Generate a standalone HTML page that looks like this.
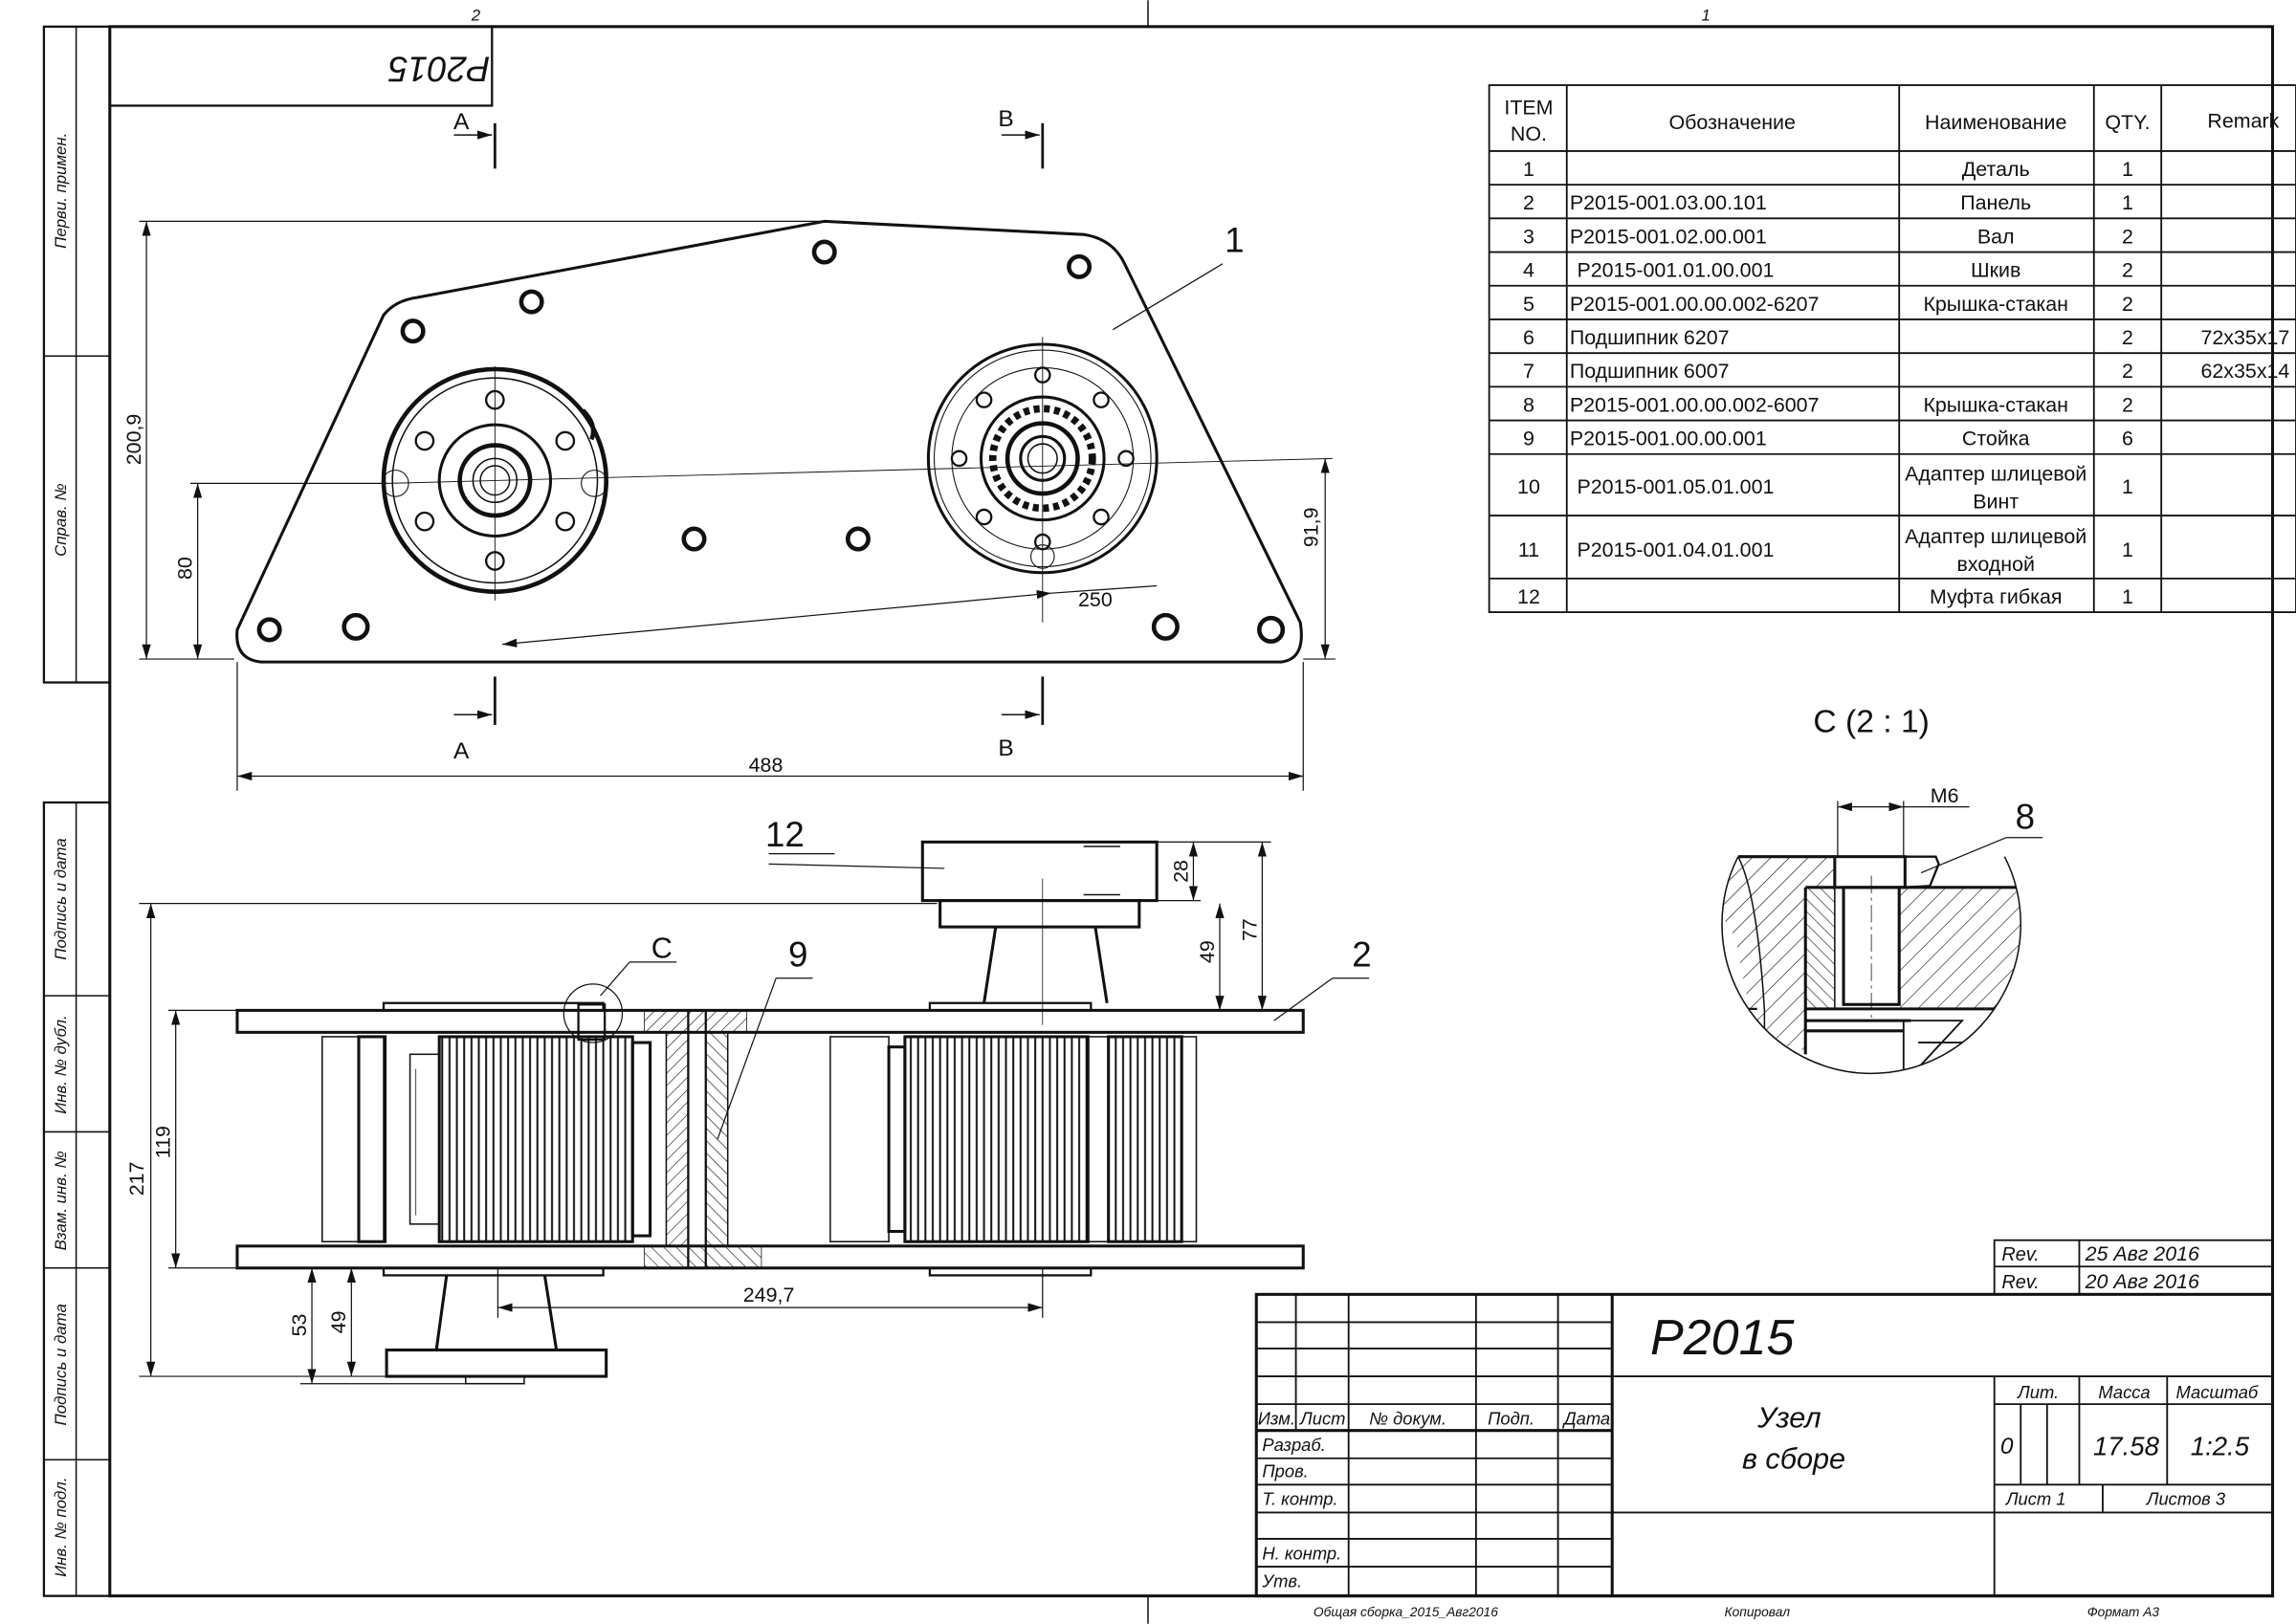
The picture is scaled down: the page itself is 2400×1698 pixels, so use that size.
<!DOCTYPE html>
<html><head><meta charset="utf-8"><style>html,body{margin:0;padding:0;background:#fff}svg{display:block}text{font-family:"Liberation Sans",sans-serif;fill:#111}</style></head><body>
<svg width="2400" height="1698" viewBox="0 0 1568 1109" xmlns="http://www.w3.org/2000/svg">
<defs>
<pattern id="h" width="9" height="9" patternUnits="userSpaceOnUse" patternTransform="rotate(45)"><line x1="0" y1="0" x2="0" y2="9" stroke="#111" stroke-width="0.8"/></pattern>
<pattern id="h2" width="6" height="6" patternUnits="userSpaceOnUse" patternTransform="rotate(-45)"><line x1="0" y1="0" x2="0" y2="6" stroke="#111" stroke-width="0.8"/></pattern>
<pattern id="hs" width="6" height="6" patternUnits="userSpaceOnUse" patternTransform="rotate(45)"><line x1="0" y1="0" x2="0" y2="6" stroke="#111" stroke-width="0.8"/></pattern>
<pattern id="teeth" width="5" height="10" patternUnits="userSpaceOnUse"><line x1="2" y1="0" x2="2" y2="10" stroke="#111" stroke-width="1.3"/></pattern>
<marker id="a" markerWidth="10" markerHeight="6" refX="10" refY="3" orient="auto-start-reverse" markerUnits="userSpaceOnUse"><path d="M0,0L10,3L0,6z" fill="#111"/></marker>
<clipPath id="cir"><path d="M1187,585 A102,102 0 1 0 1369,585 Z"/></clipPath>
</defs>
<g fill="none" stroke="#111" stroke-width="1">
<rect x="30" y="18" width="45" height="448" stroke-width="1.5"/>
<rect x="30" y="548" width="45" height="542" stroke-width="1.5"/>
<line x1="52" y1="18" x2="52" y2="466"/><line x1="52" y1="548" x2="52" y2="1090"/>
<line x1="30" y1="243" x2="75" y2="243"/><line x1="30" y1="680" x2="75" y2="680"/><line x1="30" y1="773" x2="75" y2="773"/><line x1="30" y1="866" x2="75" y2="866"/><line x1="30" y1="997" x2="75" y2="997"/>
<rect x="75" y="18" width="1477" height="1072" stroke-width="2"/>
<line x1="784" y1="0" x2="784" y2="18"/><line x1="784" y1="1090" x2="784" y2="1109"/>
<rect x="75" y="18" width="261" height="54" stroke-width="1.5"/>
<g stroke-width="1.2">
<rect x="1017" y="58" width="551" height="360"/>
<line x1="1070" y1="58" x2="1070" y2="418"/><line x1="1297" y1="58" x2="1297" y2="418"/><line x1="1430" y1="58" x2="1430" y2="418"/><line x1="1476" y1="58" x2="1476" y2="418"/>
<line x1="1017" y1="103" x2="1568" y2="103"/><line x1="1017" y1="126" x2="1568" y2="126"/><line x1="1017" y1="149" x2="1568" y2="149"/><line x1="1017" y1="172" x2="1568" y2="172"/><line x1="1017" y1="195" x2="1568" y2="195"/><line x1="1017" y1="218" x2="1568" y2="218"/><line x1="1017" y1="241" x2="1568" y2="241"/><line x1="1017" y1="264" x2="1568" y2="264"/><line x1="1017" y1="287" x2="1568" y2="287"/><line x1="1017" y1="310" x2="1568" y2="310"/><line x1="1017" y1="352" x2="1568" y2="352"/><line x1="1017" y1="395" x2="1568" y2="395"/>
</g>
<path d="M178,452 Q160,450 162,430 L262,215 Q270,205 285,203 L563,151 L740,160 Q760,163 768,180 L888,425 Q892,450 875,452 Z" stroke-width="2"/>
<g stroke-width="3">
<circle cx="563" cy="172" r="7"/><circle cx="737" cy="182" r="7"/><circle cx="363" cy="206" r="7"/><circle cx="282" cy="226" r="7"/><circle cx="474" cy="368" r="7"/><circle cx="586" cy="368" r="7"/><circle cx="184" cy="430" r="7"/><circle cx="243" cy="428" r="8"/><circle cx="796" cy="428" r="8"/><circle cx="868" cy="430" r="8"/>
</g>
<circle cx="338" cy="328" r="76" stroke-width="3"/><circle cx="338" cy="328" r="70" stroke-width="1"/>
<circle cx="338" cy="328" r="38" stroke-width="2"/><circle cx="338" cy="328" r="24" stroke-width="3"/><circle cx="338" cy="328" r="15"/><circle cx="338" cy="328" r="10"/>
<g stroke-width="1.5"><circle cx="338" cy="273" r="6"/><circle cx="338" cy="383" r="6"/><circle cx="290" cy="301" r="6"/><circle cx="386" cy="301" r="6"/><circle cx="290" cy="356" r="6"/><circle cx="386" cy="356" r="6"/><circle cx="270" cy="330" r="9" stroke-width="0.7"/><circle cx="406" cy="330" r="9" stroke-width="0.7"/></g>
<path d="M398,280 Q408,290 404,300" stroke-width="3"/>
<circle cx="712" cy="313" r="78" stroke-width="2"/><circle cx="712" cy="313" r="74" stroke-width="0.7"/><circle cx="712" cy="313" r="62" stroke-width="0.7"/>
<circle cx="712" cy="313" r="42" stroke-width="2"/><circle cx="712" cy="313" r="34" stroke-width="5" stroke-dasharray="4 3"/><circle cx="712" cy="313" r="24" stroke-width="3"/><circle cx="712" cy="313" r="15" stroke-width="2"/><circle cx="712" cy="313" r="10"/>
<g stroke-width="1.5"><circle cx="712" cy="256" r="5"/><circle cx="712" cy="370" r="5"/><circle cx="655" cy="313" r="5"/><circle cx="769" cy="313" r="5"/><circle cx="672" cy="273" r="5"/><circle cx="752" cy="273" r="5"/><circle cx="672" cy="353" r="5"/><circle cx="752" cy="353" r="5"/><circle cx="712" cy="380" r="8" stroke-width="0.7"/></g>
<line x1="265" y1="330" x2="910" y2="313" stroke-width="0.6"/><line x1="338" y1="250" x2="338" y2="410" stroke-width="0.6"/><line x1="712" y1="230" x2="712" y2="425" stroke-width="0.6"/>
<g stroke-width="0.8">
<line x1="95" y1="151" x2="560" y2="151"/><line x1="95" y1="450" x2="160" y2="450"/><line x1="100" y1="151" x2="100" y2="450" marker-start="url(#a)" marker-end="url(#a)"/>
<line x1="130" y1="330" x2="265" y2="330"/><line x1="135" y1="330" x2="135" y2="450" marker-start="url(#a)" marker-end="url(#a)"/>
<line x1="890" y1="450" x2="912" y2="450"/><line x1="905" y1="313" x2="905" y2="450" marker-start="url(#a)" marker-end="url(#a)"/>
<line x1="162" y1="452" x2="162" y2="540"/><line x1="890" y1="452" x2="890" y2="540"/><line x1="162" y1="530" x2="890" y2="530" marker-start="url(#a)" marker-end="url(#a)"/>
<line x1="343" y1="440" x2="718" y2="405" marker-start="url(#a)" marker-end="url(#a)"/><line x1="718" y1="405" x2="790" y2="400"/>
<line x1="760" y1="225" x2="835" y2="180"/>
</g>
<g stroke-width="1.8"><line x1="338" y1="84" x2="338" y2="115"/><line x1="338" y1="462" x2="338" y2="495"/><line x1="712" y1="84" x2="712" y2="115"/><line x1="712" y1="462" x2="712" y2="495"/></g>
<g stroke-width="1"><line x1="310" y1="92" x2="336" y2="92" marker-end="url(#a)"/><line x1="310" y1="488" x2="336" y2="488" marker-end="url(#a)"/><line x1="684" y1="92" x2="710" y2="92" marker-end="url(#a)"/><line x1="684" y1="488" x2="710" y2="488" marker-end="url(#a)"/></g>
<rect x="162" y="690" width="728" height="15" stroke-width="2"/><rect x="162" y="851" width="728" height="15" stroke-width="2"/>
<rect x="262" y="685" width="150" height="5" stroke-width="1.5"/><rect x="635" y="685" width="110" height="5" stroke-width="1.5"/>
<rect x="262" y="866" width="150" height="5" stroke-width="1.5"/><rect x="635" y="866" width="110" height="5" stroke-width="1.5"/>
<rect x="220" y="708" width="42" height="140"/><rect x="245" y="708" width="18" height="140" stroke-width="2"/>
<rect x="300" y="708" width="132" height="140" fill="url(#teeth)" stroke-width="2"/><rect x="280" y="720" width="20" height="116"/>
<rect x="432" y="712" width="12" height="132" stroke-width="2"/>
<rect x="567" y="708" width="40" height="140"/><rect x="618" y="708" width="125" height="140" fill="url(#teeth)" stroke-width="2"/><rect x="607" y="715" width="11" height="126" stroke-width="2"/>
<rect x="743" y="708" width="14" height="140"/><rect x="757" y="708" width="50" height="140" fill="url(#teeth)" stroke-width="2"/><rect x="807" y="708" width="10" height="140"/>
<rect x="455" y="705" width="15" height="146" fill="url(#hs)"/><rect x="482" y="705" width="15" height="146" fill="url(#h2)"/>
<rect x="470" y="690" width="12" height="176" stroke-width="1.5"/>
<rect x="440" y="690" width="70" height="15" fill="url(#hs)" stroke-width="0.5"/><rect x="440" y="851" width="80" height="15" fill="url(#h2)" stroke-width="0.5"/>
<rect x="395" y="686" width="18" height="24" stroke-width="1.5"/>
<rect x="630" y="575" width="160" height="40" stroke-width="2"/><rect x="642" y="615" width="136" height="18" stroke-width="2"/>
<path d="M680,633 L672,685 M748,633 L756,685" stroke-width="2"/><line x1="740" y1="578" x2="765" y2="578"/><line x1="740" y1="611" x2="765" y2="611"/>
<rect x="264" y="922" width="150" height="18" stroke-width="2"/><path d="M305,871 L298,922 M372,871 L380,922" stroke-width="2"/><rect x="318" y="940" width="40" height="5"/>
<line x1="712" y1="600" x2="712" y2="700" stroke-width="0.5"/><line x1="284" y1="730" x2="284" y2="830" stroke-width="0.5"/>
<g stroke-width="0.8">
<line x1="95" y1="617" x2="640" y2="617"/><line x1="95" y1="940" x2="264" y2="940"/><line x1="103" y1="617" x2="103" y2="940" marker-start="url(#a)" marker-end="url(#a)"/>
<line x1="115" y1="690" x2="162" y2="690"/><line x1="115" y1="866" x2="162" y2="866"/><line x1="120" y1="690" x2="120" y2="866" marker-start="url(#a)" marker-end="url(#a)"/>
<line x1="790" y1="575" x2="868" y2="575"/><line x1="815" y1="575" x2="815" y2="615" marker-start="url(#a)" marker-end="url(#a)"/><line x1="790" y1="615" x2="820" y2="615"/>
<line x1="833" y1="617" x2="833" y2="690" marker-start="url(#a)" marker-end="url(#a)"/><line x1="862" y1="575" x2="862" y2="690" marker-start="url(#a)" marker-end="url(#a)"/>
<line x1="205" y1="945" x2="318" y2="945"/><line x1="213" y1="866" x2="213" y2="945" marker-start="url(#a)" marker-end="url(#a)"/><line x1="240" y1="866" x2="240" y2="940" marker-start="url(#a)" marker-end="url(#a)"/><line x1="205" y1="866" x2="262" y2="866"/>
<line x1="340" y1="866" x2="340" y2="900"/><line x1="712" y1="866" x2="712" y2="900"/><line x1="340" y1="893" x2="712" y2="893" marker-start="url(#a)" marker-end="url(#a)"/>
<line x1="525" y1="583" x2="570" y2="583"/><line x1="525" y1="590" x2="645" y2="593"/>
<line x1="430" y1="657" x2="462" y2="657"/><line x1="430" y1="657" x2="410" y2="680"/>
<line x1="530" y1="668" x2="555" y2="668"/><line x1="530" y1="668" x2="490" y2="778"/>
<line x1="910" y1="668" x2="935" y2="668"/><line x1="910" y1="668" x2="870" y2="697"/>
</g>
<circle cx="405" cy="692" r="20" stroke-width="0.8"/>
<!-- detail C -->
<g clip-path="url(#cir)">
<path d="M1150,585 L1253,585 L1253,606 L1233,606 L1233,717 L1200,717 L1185,640 Z" fill="url(#h)" stroke="none"/>
<rect x="1233" y="606" width="20" height="83" fill="url(#h2)" stroke="none"/>
<rect x="1297" y="606" width="110" height="83" fill="url(#h)" stroke="none"/>
<path d="M1233,606 L1253,606 M1297,606 L1400,606" stroke-width="2"/>
<path d="M1233,606 L1233,720" stroke-width="2"/>
<path d="M1187,585 Q1200,610 1205,690 L1205,717" stroke-width="1"/>
<rect x="1259" y="606" width="38" height="80" stroke-width="2"/>
<line x1="1253" y1="606" x2="1253" y2="689" stroke-width="1"/>
<path d="M1233,689 L1400,689" stroke-width="2"/><path d="M1233,697 L1305,697 M1233,704 L1300,704" stroke-width="2"/>
<path d="M1300,697 L1300,740 M1305,697 L1340,697 L1300,740 M1310,712 L1345,712" stroke-width="1.2"/>
<path d="M1150,689 L1200,689" stroke-width="1.5"/>
</g>
<path d="M1187,585 A102,102 0 1 0 1369,585" stroke-width="1"/>
<line x1="1187" y1="585" x2="1253" y2="585" stroke-width="2"/>
<rect x="1253" y="585" width="48" height="21" stroke-width="2"/><path d="M1301,585 L1322,585 L1324,590 L1318,605 L1301,606" stroke-width="1.5"/>
<line x1="1278" y1="598" x2="1278" y2="695" stroke-width="0.5" stroke-dasharray="12 3 2 3"/>
<g stroke-width="0.8"><line x1="1255" y1="547" x2="1255" y2="585"/><line x1="1300" y1="547" x2="1300" y2="585"/><line x1="1255" y1="551" x2="1300" y2="551" marker-start="url(#a)" marker-end="url(#a)"/><line x1="1300" y1="551" x2="1345" y2="551"/><line x1="1312" y1="596" x2="1370" y2="572"/><line x1="1370" y1="572" x2="1395" y2="572"/></g>
<!-- title block -->
<g stroke-width="1.2">
<rect x="1362" y="847" width="190" height="37"/><line x1="1362" y1="865" x2="1552" y2="865"/><line x1="1420" y1="847" x2="1420" y2="884"/>
<rect x="858" y="884" width="694" height="206" stroke-width="2"/>
<line x1="1101" y1="884" x2="1101" y2="1090" stroke-width="2"/>
<line x1="885" y1="884" x2="885" y2="977"/><line x1="921" y1="884" x2="921" y2="1090"/><line x1="1008" y1="884" x2="1008" y2="1090"/><line x1="1064" y1="884" x2="1064" y2="1090"/>
<line x1="858" y1="903" x2="1101" y2="903"/><line x1="858" y1="921" x2="1101" y2="921"/><line x1="858" y1="940" x2="1552" y2="940"/><line x1="858" y1="959" x2="1101" y2="959"/><line x1="858" y1="977" x2="1101" y2="977" stroke-width="2"/><line x1="858" y1="996" x2="1101" y2="996"/><line x1="858" y1="1014" x2="1101" y2="1014"/><line x1="858" y1="1033" x2="1552" y2="1033"/><line x1="858" y1="1051" x2="1101" y2="1051"/><line x1="858" y1="1070" x2="1101" y2="1070"/>
<line x1="1362" y1="940" x2="1362" y2="1090"/><line x1="1362" y1="959" x2="1552" y2="959"/><line x1="1362" y1="1014" x2="1552" y2="1014"/>
<line x1="1380" y1="959" x2="1380" y2="1014"/><line x1="1398" y1="959" x2="1398" y2="1014"/><line x1="1420" y1="940" x2="1420" y2="1014"/><line x1="1480" y1="940" x2="1480" y2="1014"/><line x1="1436" y1="1014" x2="1436" y2="1033"/>
</g>
</g>
<g font-size="11" font-style="italic">
<text x="325" y="14" text-anchor="middle">2</text><text x="1165" y="14" text-anchor="middle">1</text>
<text transform="translate(45,130) rotate(-90)" text-anchor="middle">Перви. примен.</text>
<text transform="translate(45,355) rotate(-90)" text-anchor="middle">Справ. №</text>
<text transform="translate(45,614) rotate(-90)" text-anchor="middle">Подпись и дата</text>
<text transform="translate(45,727) rotate(-90)" text-anchor="middle">Инв. № дубл.</text>
<text transform="translate(45,820) rotate(-90)" text-anchor="middle">Взам. инв. №</text>
<text transform="translate(45,932) rotate(-90)" text-anchor="middle">Подпись и дата</text>
<text transform="translate(45,1043) rotate(-90)" text-anchor="middle">Инв. № подл.</text>
<text x="960" y="1104" font-size="9" text-anchor="middle">Общая сборка_2015_Авг2016</text>
<text x="1200" y="1104" font-size="9" text-anchor="middle">Копировал</text>
<text x="1450" y="1104" font-size="9" text-anchor="middle">Формат А3</text>
</g>
<text transform="translate(300,45) rotate(180)" font-size="24" font-style="italic" text-anchor="middle" dominant-baseline="middle">P2015</text>
<g font-size="14">
<text x="1044" y="78" text-anchor="middle">ITEM</text><text x="1044" y="96" text-anchor="middle">NO.</text>
<text x="1183" y="88" text-anchor="middle">Обозначение</text><text x="1363" y="88" text-anchor="middle">Наименование</text><text x="1453" y="88" text-anchor="middle">QTY.</text><text x="1532" y="87" text-anchor="middle">Remark</text>
<g text-anchor="middle"><text x="1044" y="120">1</text><text x="1044" y="143">2</text><text x="1044" y="166">3</text><text x="1044" y="189">4</text><text x="1044" y="212">5</text><text x="1044" y="235">6</text><text x="1044" y="258">7</text><text x="1044" y="281">8</text><text x="1044" y="304">9</text><text x="1044" y="337">10</text><text x="1044" y="380">11</text><text x="1044" y="412">12</text>
<text x="1453" y="120">1</text><text x="1453" y="143">1</text><text x="1453" y="166">2</text><text x="1453" y="189">2</text><text x="1453" y="212">2</text><text x="1453" y="235">2</text><text x="1453" y="258">2</text><text x="1453" y="281">2</text><text x="1453" y="304">6</text><text x="1453" y="337">1</text><text x="1453" y="380">1</text><text x="1453" y="412">1</text>
<text x="1363" y="120">Деталь</text><text x="1363" y="143">Панель</text><text x="1363" y="166">Вал</text><text x="1363" y="189">Шкив</text><text x="1363" y="212">Крышка-стакан</text><text x="1363" y="281">Крышка-стакан</text><text x="1363" y="304">Стойка</text>
<text x="1363" y="328">Адаптер шлицевой</text><text x="1363" y="347">Винт</text><text x="1363" y="371">Адаптер шлицевой</text><text x="1363" y="390">входной</text><text x="1363" y="412">Муфта гибкая</text></g>
<text x="1072" y="143">P2015-001.03.00.101</text><text x="1072" y="166">P2015-001.02.00.001</text><text x="1077" y="189">P2015-001.01.00.001</text><text x="1072" y="212">P2015-001.00.00.002-6207</text><text x="1072" y="235">Подшипник 6207</text><text x="1072" y="258">Подшипник 6007</text><text x="1072" y="281">P2015-001.00.00.002-6007</text><text x="1072" y="304">P2015-001.00.00.001</text><text x="1077" y="337">P2015-001.05.01.001</text><text x="1077" y="380">P2015-001.04.01.001</text>
<text x="1503" y="235">72x35x17</text><text x="1503" y="258">62x35x14</text>
</g>
<g font-size="16">
<text x="315" y="88" text-anchor="middle">A</text><text x="315" y="518" text-anchor="middle">A</text><text x="687" y="86" text-anchor="middle">B</text><text x="687" y="516" text-anchor="middle">B</text>
<text x="843" y="172" font-size="24" text-anchor="middle">1</text>
<text x="536" y="578" font-size="24" text-anchor="middle">12</text><text x="452" y="654" font-size="20" text-anchor="middle">C</text><text x="545" y="660" font-size="24" text-anchor="middle">9</text><text x="930" y="660" font-size="24" text-anchor="middle">2</text>
<text x="1278" y="500" font-size="22" text-anchor="middle">C  (2 : 1)</text><text x="1328" y="548" font-size="14" text-anchor="middle">M6</text><text x="1383" y="566" font-size="24" text-anchor="middle">8</text>
<text x="523" y="527" font-size="14" text-anchor="middle">488</text><text x="748" y="414" font-size="14" text-anchor="middle">250</text><text x="525" y="889" font-size="14" text-anchor="middle">249,7</text>
<g font-size="14" text-anchor="middle">
<text transform="translate(96,300) rotate(-90)">200,9</text><text transform="translate(131,388) rotate(-90)">80</text><text transform="translate(900,360) rotate(-90)">91,9</text>
<text transform="translate(98,805) rotate(-90)">217</text><text transform="translate(116,780) rotate(-90)">119</text><text transform="translate(811,595) rotate(-90)">28</text><text transform="translate(829,650) rotate(-90)">49</text><text transform="translate(858,635) rotate(-90)">77</text><text transform="translate(209,905) rotate(-90)">53</text><text transform="translate(236,903) rotate(-90)">49</text>
</g>
</g>
<g font-style="italic">
<text x="1367" y="861" font-size="13">Rev.</text><text x="1367" y="880" font-size="13">Rev.</text><text x="1424" y="861" font-size="14">25 Авг 2016</text><text x="1424" y="880" font-size="14">20 Авг 2016</text>
<text x="1127" y="925" font-size="34">P2015</text>
<text x="1222" y="975" font-size="20" text-anchor="middle">Узел</text><text x="1225" y="1003" font-size="20" text-anchor="middle">в сборе</text>
<g font-size="12"><text x="859" y="973">Изм.</text><text x="888" y="973">Лист</text><text x="935" y="973">№ докум.</text><text x="1016" y="973">Подп.</text><text x="1068" y="973">Дата</text>
<text x="862" y="991">Разраб.</text><text x="862" y="1009">Пров.</text><text x="862" y="1028">Т. контр.</text><text x="862" y="1065">Н. контр.</text><text x="862" y="1084">Утв.</text>
<text x="1378" y="955">Лит.</text><text x="1433" y="955">Масса</text><text x="1486" y="955">Масштаб</text><text x="1370" y="1028">Лист  1</text><text x="1466" y="1028">Листов 3</text></g>
<text x="1366" y="993" font-size="16">0</text><text x="1452" y="994" font-size="18" text-anchor="middle">17.58</text><text x="1516" y="994" font-size="18" text-anchor="middle">1:2.5</text>
</g>
</svg>
</body></html>
